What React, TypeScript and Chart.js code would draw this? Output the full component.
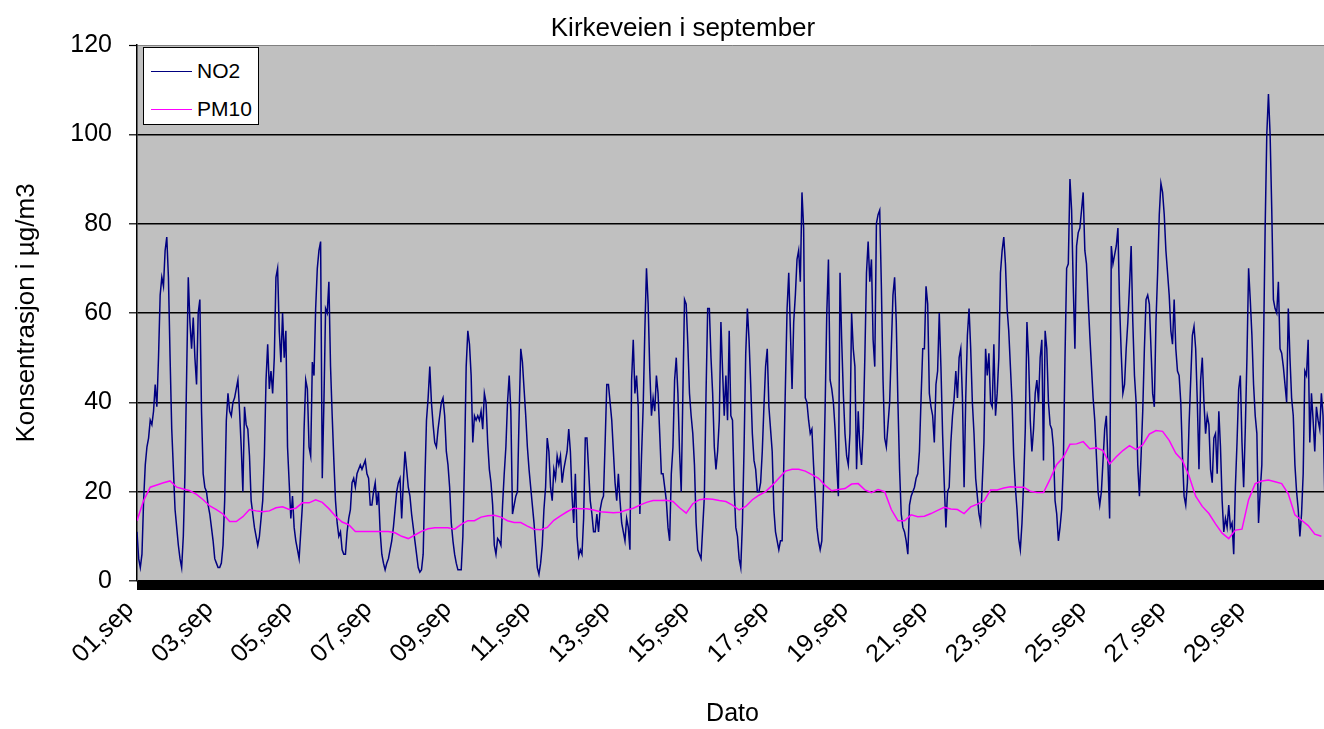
import { useEffect, useRef } from "react";
import { Chart, registerables } from "chart.js";

Chart.register(...registerables);

const chartTitle = "Kirkeveien i september";
const xTitle = "Dato";
const yTitle = "Konsentrasjon i µg/m3";
const seriesNames = ["NO2", "PM10"];
const seriesColors = ["#000080", "#FF00FF"];

const tickLabels = ["01,sep", "03,sep", "05,sep", "07,sep", "09,sep", "11,sep", "13,sep", "15,sep", "17,sep", "19,sep", "21,sep", "23,sep", "25,sep", "27,sep", "29,sep"];
const tickHours = [0, 48, 96, 144, 192, 240, 288, 336, 384, 432, 480, 528, 576, 624, 672];
const yMin = 0;
const yMax = 120;
const yStep = 20;
const hoursInMonth = 720;

// NO2, hourly values (one row per day, 01.sep .. 30.sep)
const no2 = [
  11, 5, 3, 6, 18, 26, 30, 32, 36, 35, 38, 44, 39, 50, 64, 68, 66, 74, 77, 68, 50, 34, 25, 16,
  12, 8, 5, 3, 10, 24, 46, 68, 58, 52, 59, 50, 44, 60, 63, 38, 24, 21, 20, 17, 15, 12, 9, 5,
  4, 3, 3, 4, 8, 18, 36, 42, 38, 37, 40, 41, 43, 45, 38, 30, 20, 39, 35, 34, 28, 18, 15, 12,
  10, 8, 10, 14, 18, 28, 45, 53, 43, 47, 42, 50, 68, 70, 56, 49, 60, 50, 56, 30, 22, 14, 19, 12,
  9, 7, 5, 11, 17, 34, 45, 43, 30, 28, 49, 46, 61, 70, 74, 76, 23, 40, 61, 60, 67, 48, 37, 27,
  18, 13, 10, 11, 7, 6, 6, 11, 14, 16, 22, 23, 21, 24, 25, 26, 25, 26, 27, 24, 23, 17, 17, 20,
  22, 17, 20, 11, 6, 4, 2.5, 4, 5, 7, 9, 12, 16, 20, 22, 23, 14, 22, 29, 25, 21, 19, 15, 12,
  9, 6, 3, 2, 2.5, 6, 22, 36, 41, 48, 40, 35, 31, 30, 34, 37, 40, 41, 37, 29, 26, 21, 13, 9,
  6, 4, 2.5, 2.5, 2.5, 10, 27, 48, 56, 53, 46, 31, 37, 36, 37, 36, 38, 34, 42, 40, 31, 25, 22, 17,
  8, 6, 9.5, 9, 8, 17, 24, 30, 40, 46, 38, 15, 17, 19, 20, 37, 52, 49, 43, 37, 30, 25, 21, 17,
  13, 8, 3, 1.5, 4, 8, 16, 21, 32, 29, 21, 18, 25, 23, 28, 26, 28, 22, 25, 27, 29, 34, 29, 19,
  13, 24, 10, 5.5, 7, 6, 14, 32, 32, 25, 18, 15, 11, 11, 15, 11, 16, 18, 19, 31, 44, 44, 40, 36,
  29, 22, 18, 24, 18, 13, 11, 9, 14, 12, 7, 45, 54, 42, 46, 39, 15, 28, 39, 56, 70, 62, 47, 37,
  41, 38, 46, 42, 33, 24, 24, 21, 18, 12, 9, 24, 30, 45, 50, 42, 29, 20, 42, 63, 62, 53, 42, 37,
  33, 26, 13, 7, 6, 5, 12, 19, 42, 61, 61, 50, 42, 30, 25, 29, 36, 58, 47, 37, 46, 36, 56, 37,
  36, 21, 12, 10, 5, 3, 13, 30, 51, 61, 54, 44, 33, 27, 25, 20, 20, 22, 29, 39, 48, 52, 39, 34,
  29, 16, 11, 9, 7, 9, 9, 26, 44, 61, 69, 56, 43, 58, 64, 72, 74, 67, 87, 79, 41, 40, 36, 33,
  34, 26, 19, 12, 9, 7, 9, 21, 39, 60, 72, 45, 43, 40, 34, 26, 19, 69, 54, 42, 33, 28, 26, 33,
  60, 52, 48, 25, 38, 30, 26, 34, 50, 69, 76, 67, 72, 54, 48, 80, 82, 83, 66, 45, 32, 30, 35, 40,
  52, 64, 68, 58, 40, 25, 15, 12, 11, 9, 6, 17, 19, 20, 21, 23, 24, 29, 41, 52, 52, 66, 62, 42,
  39, 37, 31, 44, 47, 60, 48, 33, 22, 12, 20, 21, 31, 37, 41, 47, 41, 50, 52, 41, 21, 41, 55, 61,
  52, 40, 33, 23, 19, 15, 13, 22, 31, 52, 46, 51, 40, 39, 53, 37, 42, 50, 69, 74, 77, 71, 61, 56,
  48, 40, 28, 21, 16, 9.5, 7, 13, 22, 34, 58, 50, 36, 29, 34, 42, 45, 40, 50, 54, 27, 56, 52, 40,
  35, 34, 30, 18, 15, 9, 12, 16, 26, 50, 70, 71, 90, 83, 66, 52, 75, 78, 79, 83, 87, 74, 71, 63,
  55, 48, 41, 36, 28, 20, 17, 20, 27, 34, 37, 26, 14, 75, 71, 73, 75, 79, 62, 51, 42, 44, 52, 58,
  66, 75, 58, 46, 40, 26, 19, 28, 38, 52, 63, 64, 62, 52, 42, 39, 58, 69, 82, 89, 87, 82, 74, 69,
  64, 56, 53, 63, 52, 47, 46, 40, 28, 19, 17, 22, 35, 45, 55, 57, 52, 40, 25, 45, 50, 40, 33, 37,
  35, 25, 22, 32, 33, 24, 38, 30, 18, 11, 14, 12, 17, 12, 13, 6, 21, 31, 43, 46, 31, 21, 34, 50,
  70, 63, 55, 44, 37, 33, 13, 20, 26, 52, 79, 100, 109, 100, 83, 63, 61, 60, 67, 52, 51, 48, 44, 40,
  61, 50, 41, 37, 26, 20, 16, 10, 15, 24, 47, 46, 54, 31, 42, 36, 29, 39, 36, 34, 42, 37, 20, 49,
];

// PM10, every 4th hour (one row per day)
const pm10StepHours = 4;
const pm10 = [
  13.5, 18, 21, 21.5, 22, 22.4,
  21, 20.6, 20.2, 19.4, 18.2, 16.8,
  16, 15, 13.3, 13.3, 14.4, 16,
  15.7, 15.5, 15.7, 16.4, 16.6, 16,
  16.3, 17.5, 17.5, 18.2, 17.6, 16.2,
  14.5, 13.2, 12.6, 11.1, 11.1, 11.1,
  11.1, 11.1, 11.1, 10.8, 10, 9.5,
  10.3, 11.1, 11.7, 11.9, 11.9, 11.9,
  11.6, 12.7, 13.5, 13.5, 14.3, 14.6,
  14.7, 14.3, 13.5, 13.1, 13.1, 12.3,
  11.6, 11.5, 12, 13.6, 14.6, 15.5,
  16.3, 16.2, 16.2, 15.9, 15.5, 15.4,
  15.3, 15.4, 15.9, 16.3, 17, 17.6,
  18, 18, 18.1, 17.8, 16.4, 15.2,
  17.3, 18.2, 18.4, 18.3, 18, 17.8,
  17, 15.9, 16.7, 18.2, 19.2, 20,
  21.4, 23, 24.6, 25, 25, 24.6,
  23.8, 23, 21.4, 20.2, 20.5, 20.7,
  21.7, 21.8, 20.4, 19.8, 20.5, 20,
  16, 13.5, 13.5, 14.8, 14.4, 14.5,
  15.1, 15.8, 16.5, 16.1, 16, 15.1,
  16.6, 17.2, 17.9, 20.4, 20.4, 20.8,
  21.1, 21, 21, 20.1, 19.8, 19.8,
  22.8, 26.1, 27.7, 30.6, 30.7, 31.2,
  29.6, 29.8, 29.2, 26.2, 27.8, 29.2,
  30.3, 29.4, 30.5, 32.9, 33.7, 33.5,
  31.5, 28.6, 27, 23.5, 19, 16.7,
  15.1, 12.8, 10.7, 9.5, 11.4, 11.6,
  18.2, 21.8, 22.4, 22.6, 22.2, 21.8,
  19.5, 14.8, 13.6, 12.4, 10.5, 10,
];

const FONT = "'Liberation Sans', Arial, sans-serif";

const plotDecor = {
  id: "plotDecor",
  beforeDraw(chart: any) {
    const { ctx, chartArea } = chart;
    const { left, top, right, bottom } = chartArea;
    ctx.save();
    ctx.fillStyle = "#C0C0C0";
    ctx.fillRect(left, top, right - left, bottom - top);
    ctx.restore();
  },
  afterDraw(chart: any) {
    const { ctx, chartArea } = chart;
    const { left, right, bottom } = chartArea;
    ctx.save();
    ctx.fillStyle = "#000000";
    ctx.fillRect(left, bottom, right - left, 9);
    ctx.restore();
  },
};

export default function App() {
  const canvasRef = useRef<HTMLCanvasElement | null>(null);

  useEffect(() => {
    document.body.style.margin = "0";
    const canvas = canvasRef.current;
    if (!canvas) return;
    const chart = new Chart(canvas, {
      type: "line",
      data: {
        datasets: [
          {
            label: seriesNames[1],
            data: pm10.map((v, i) => ({ x: i * pm10StepHours, y: v })),
            borderColor: seriesColors[1],
            backgroundColor: seriesColors[1],
            borderWidth: 1.5,
            pointRadius: 0,
            tension: 0,
            order: 0,
          },
          {
            label: seriesNames[0],
            data: no2.map((v, i) => ({ x: i, y: v })),
            borderColor: seriesColors[0],
            backgroundColor: seriesColors[0],
            borderWidth: 1.5,
            pointRadius: 0,
            tension: 0,
            order: 1,
          },
        ],
      },
      options: {
        responsive: false,
        animation: false,
        events: [],
        layout: { padding: 0 },
        plugins: {
          legend: { display: false },
          tooltip: { enabled: false },
          title: {
            display: true,
            text: chartTitle,
            color: "#000",
            font: { family: FONT, size: 26, weight: "normal" },
            padding: { top: 13, bottom: 0.8 },
          },
        },
        scales: {
          x: {
            type: "linear",
            min: 0,
            max: hoursInMonth,
            afterBuildTicks: (scale: any) => {
              scale.ticks = tickHours.map((v) => ({ value: v }));
            },
            afterFit: (scale: any) => {
              scale.height = 148;
            },
            ticks: {
              autoSkip: false,
              maxRotation: 45,
              minRotation: 45,
              padding: 14,
              labelOffset: -7,
              color: "#000",
              font: { family: FONT, size: 25 },
              callback: (value: any) => {
                const idx = tickHours.indexOf(Number(value));
                return idx >= 0 ? tickLabels[idx] : "";
              },
            },
            grid: { display: false, drawTicks: false },
            border: { display: false },
            title: {
              display: true,
              text: xTitle,
              color: "#000",
              font: { family: FONT, size: 25 },
              padding: { top: 0, bottom: 0 },
            },
          },
          y: {
            min: yMin,
            max: yMax,
            afterFit: (scale: any) => {
              scale.width = 137;
            },
            ticks: {
              stepSize: yStep,
              padding: 17,
              color: "#000",
              font: { family: FONT, size: 25 },
            },
            grid: {
              color: (ctx: any) => (ctx.tick && ctx.tick.value === yMax ? "#808080" : "#000000"),
              lineWidth: (ctx: any) => (ctx.tick && ctx.tick.value === yMax ? 1 : 1.6),
              tickColor: "#000000",
              tickLength: 8,
              tickWidth: 1.2,
            },
            border: { display: true, color: "#000000", width: 1.5 },
            title: {
              display: true,
              text: yTitle,
              color: "#000",
              font: { family: FONT, size: 26 },
              padding: { top: 11, bottom: 0 },
            },
          },
          yRight: {
            position: "right",
            display: true,
            min: yMin,
            max: yMax,
            afterFit: (scale: any) => {
              scale.width = 38;
            },
            ticks: { display: false },
            grid: { display: false, drawTicks: false },
            border: { display: false },
          },
        },
      } as any,
      plugins: [plotDecor],
    });
    return () => chart.destroy();
  }, []);

  return (
    <div style={{ position: "relative", width: 1324, height: 729, overflow: "hidden", background: "#fff" }}>
      <canvas ref={canvasRef} width={1366} height={729} style={{ display: "block", width: 1366, height: 729 }} />
      <div
        style={{
          position: "absolute",
          left: 143,
          top: 47,
          width: 114,
          height: 76,
          background: "#fff",
          border: "1.5px solid #000",
          fontFamily: FONT,
          fontSize: 21,
          color: "#000",
        }}
      >
        {seriesNames.map((name, i) => (
          <div key={name} style={{ position: "absolute", left: 0, top: i === 0 ? 10 : 48, height: 26, display: "flex", alignItems: "center" }}>
            <span style={{ display: "inline-block", marginLeft: 7, width: 41, height: 0, borderTop: `1.5px solid ${seriesColors[i]}` }} />
            <span style={{ marginLeft: 5, lineHeight: "26px" }}>{name}</span>
          </div>
        ))}
      </div>
    </div>
  );
}
